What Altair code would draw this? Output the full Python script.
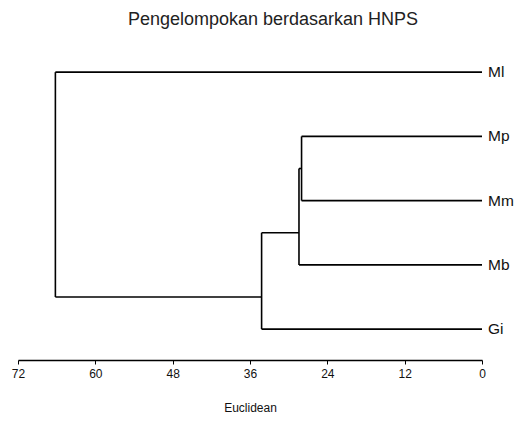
import altair as alt
import pandas as pd

# Leaves (top to bottom) and their row positions
leaves = ["Ml", "Mp", "Mm", "Mb", "Gi"]
leaf_pos = [0, 1, 2, 3, 4]

# Internal nodes: merge height (Euclidean), children, and row position of the node
node_names = ["N1", "N2", "N3", "Root"]
node_height = [28.0, 28.4, 34.2, 66.2]
node_children = [["Mp", "Mm"], ["N1", "Mb"], ["N2", "Gi"], ["Ml", "N3"]]
node_pos = [1.5, 2.5, 3.5, 1.75]

tick_values = [0, 12, 24, 36, 48, 60, 72]

height_of = {n: 0.0 for n in leaves}
pos_of = dict(zip(leaves, leaf_pos))
for n, h, p in zip(node_names, node_height, node_pos):
    height_of[n] = h
    pos_of[n] = p

rows = []
for n, h, ch in zip(node_names, node_height, node_children):
    ys = [pos_of[c] for c in ch]
    # vertical connector
    rows.append({"x": h, "x2": h, "y": min(ys), "y2": max(ys)})
    # horizontal branches of the children
    for c in ch:
        rows.append({"x": height_of[c], "x2": h, "y": pos_of[c], "y2": pos_of[c]})
seg = pd.DataFrame(rows)
lab = pd.DataFrame({"name": leaves, "pos": leaf_pos, "x": [0.0] * len(leaves)})

FONT = "Liberation Sans"

xscale = alt.Scale(domain=[0, 72], reverse=True, nice=False, zero=False)
yscale = alt.Scale(domain=[-0.5, 4.48], reverse=True, nice=False, zero=False)

branches = alt.Chart(seg).mark_rule(color="black", strokeWidth=1.6).encode(
    x=alt.X("x:Q", scale=xscale,
            axis=alt.Axis(values=tick_values, title="Euclidean", grid=False,
                          domainColor="black", domainWidth=1.6, tickColor="black",
                          tickSize=4, tickWidth=1, labelFont=FONT, labelFontSize=12,
                          labelColor="#111", labelPadding=4, titleFont=FONT,
                          titleFontSize=12, titleFontWeight="normal", titleColor="#111",
                          titlePadding=23, labelFlush=False)),
    x2="x2:Q",
    y=alt.Y("y:Q", scale=yscale, axis=None),
    y2="y2:Q",
)

labels = alt.Chart(lab).mark_text(align="left", baseline="middle", dx=6,
                                  font=FONT, fontSize=15.5, color="#111").encode(
    x=alt.X("x:Q", scale=xscale),
    y=alt.Y("pos:Q", scale=yscale),
    text="name:N",
)

chart = (branches + labels).properties(
    width=464, height=320,
    autosize=alt.AutoSizeParams(type="none"),
    padding={"left": 10, "top": 32, "right": 33, "bottom": 53},
    title=alt.TitleParams("Pengelompokan berdasarkan HNPS", font=FONT, fontSize=18,
                          fontWeight="normal", color="#222", anchor="middle",
                          dx=23, offset=11),
).configure_view(stroke=None)

chart.save("out.html", embed_options={"renderer": "svg", "actions": False})
